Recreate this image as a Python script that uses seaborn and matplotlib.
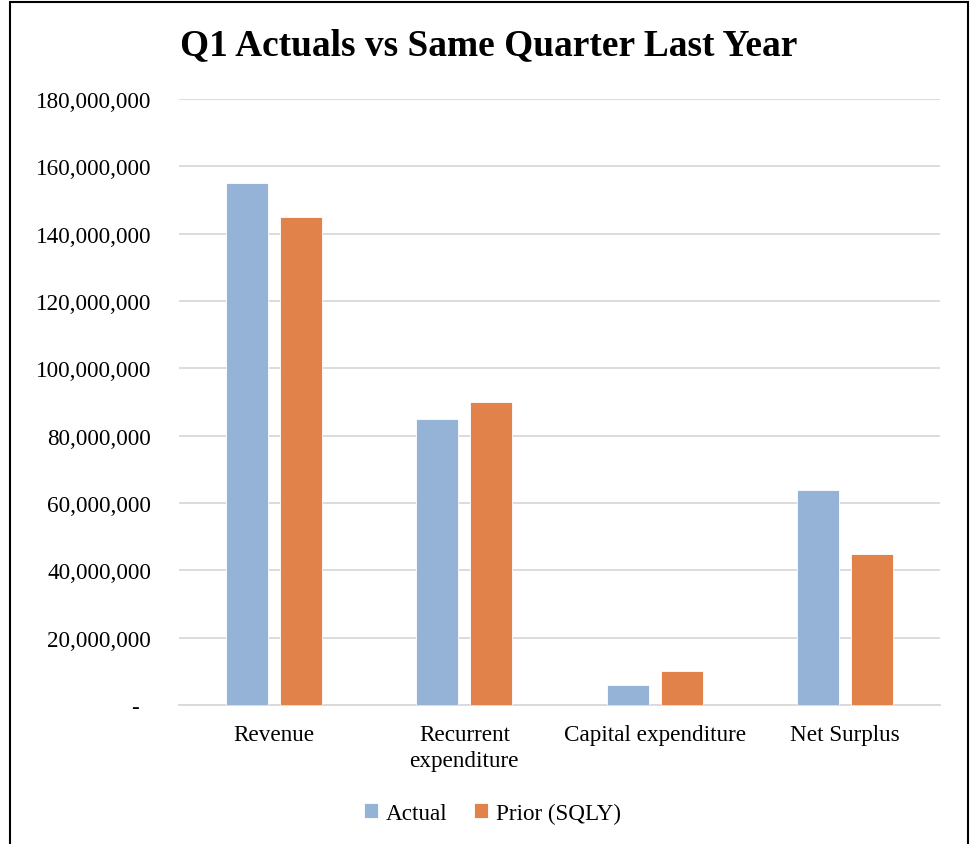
import matplotlib
matplotlib.use("Agg")
import matplotlib.pyplot as plt
import seaborn as sns
import pandas as pd
from matplotlib.ticker import FuncFormatter
from matplotlib.patches import Rectangle

categories = ["Revenue", "Recurrent\nexpenditure", "Capital expenditure", "Net Surplus"]
actual = [155_000_000, 85_000_000, 6_000_000, 64_000_000]
prior = [145_000_000, 90_000_000, 10_000_000, 45_000_000]
series = ["Actual", "Prior (SQLY)"]
colors = ["#95B3D7", "#E0824A"]

df = pd.DataFrame({
    "Category": categories * 2,
    "Value": actual + prior,
    "Series": [series[0]] * 4 + [series[1]] * 4,
})

sns.set_theme(style="white")
plt.rcParams["font.family"] = ["Liberation Serif", "DejaVu Serif"]

fig = plt.figure(figsize=(9.72, 8.45), dpi=100)
ax = fig.add_axes([179/972, 1-706/845, (940-179)/972, (706-100)/845])

sns.barplot(data=df, x="Category", y="Value", hue="Series", order=categories,
            hue_order=series, palette=colors, saturation=1, width=0.568, gap=0.22,
            edgecolor="white", linewidth=0.6, ax=ax, legend=True, zorder=3)

ax.set_ylim(0, 180_000_000)
ax.set_xlim(-0.5, 3.5)
ax.set_yticks(range(0, 180_000_001, 20_000_000))
ax.yaxis.set_major_formatter(FuncFormatter(lambda v, p: "-  " if v == 0 else f"{v:,.0f}"))
ax.grid(axis="y", color="#D9D9D9", linewidth=1.3, zorder=0)
ax.grid(axis="x", visible=False)
for s in ["top", "right", "left"]:
    ax.spines[s].set_visible(False)
ax.spines["bottom"].set_color("#D9D9D9")
ax.spines["bottom"].set_linewidth(1.3)
ax.tick_params(axis="both", length=0, labelsize=16.7, colors="black")
ax.tick_params(axis="y", pad=20)
ax.tick_params(axis="x", pad=14)
for lbl in ax.get_xticklabels():
    lbl.set_linespacing(1.3)
ax.set_xlabel("")
ax.set_ylabel("")

fig.text(0.5025, 1 - 46/845, "Q1 Actuals vs Same Quarter Last Year", ha="center", va="center",
         fontsize=26.9, fontweight="bold", color="black")

leg = ax.legend(loc="center", bbox_to_anchor=(0.507, 1 - 814/845), bbox_transform=fig.transFigure,
                ncol=2, frameon=False, fontsize=16.7, handlelength=0.6, handleheight=0.6,
                handletextpad=0.35, columnspacing=1.15)
for t in leg.get_texts():
    t.set_color("black")

fig.patches.append(Rectangle((10/972, -0.01), (968-10)/972, 1.01 - 3/845, transform=fig.transFigure,
                             fill=False, edgecolor="black", linewidth=1.5))

fig.savefig("out.png", dpi=100)
